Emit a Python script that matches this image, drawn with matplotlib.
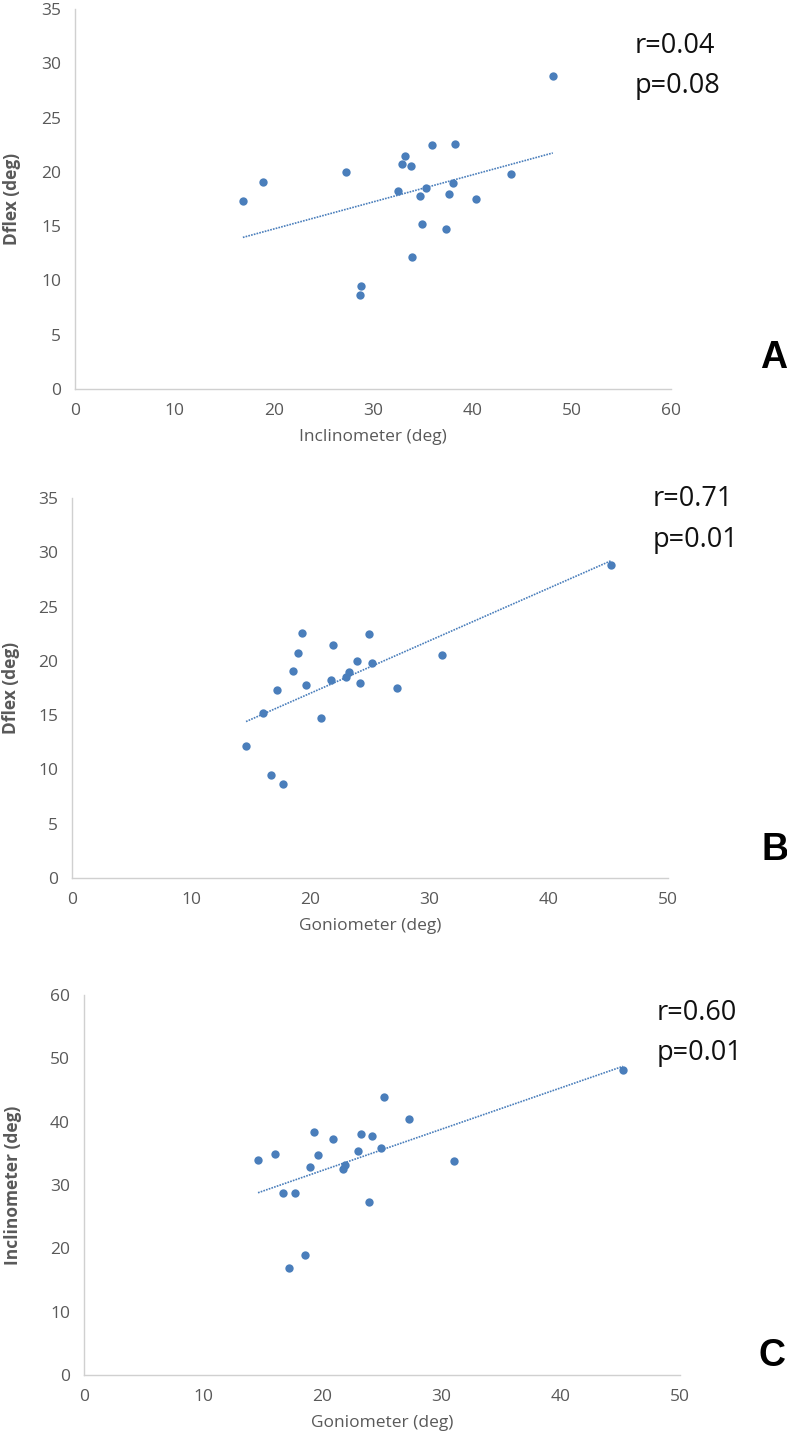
import numpy as np
import matplotlib
matplotlib.use("Agg")
import matplotlib.pyplot as plt

# one value per subject
goniometer = [14.6, 16.0, 16.7, 17.2, 17.7, 18.5, 19.0, 19.3, 19.6, 20.9, 21.7,
              21.9, 23.0, 23.2, 23.9, 24.2, 24.9, 25.2, 27.3, 31.0, 45.2]
inclinometer = [33.9, 34.9, 28.8, 16.9, 28.7, 18.9, 32.9, 38.3, 34.7, 37.3, 32.5,
                33.2, 35.3, 38.1, 27.3, 37.7, 35.9, 43.9, 40.4, 33.8, 48.1]
dflex = [12.2, 15.2, 9.5, 17.3, 8.7, 19.1, 20.7, 22.6, 17.8, 14.7, 18.2,
         21.5, 18.5, 19.0, 20.0, 18.0, 22.5, 19.8, 17.5, 20.5, 28.8]

panel_letters = ["A", "B", "C"]
r_text = ["r=0.04", "r=0.71", "r=0.60"]
p_text = ["p=0.08", "p=0.01", "p=0.01"]
x_titles = ["Inclinometer (deg)", "Goniometer (deg)", "Goniometer (deg)"]
y_titles = ["Dflex (deg)", "Dflex (deg)", "Inclinometer (deg)"]
x_max = [60, 50, 50]
y_max = [35, 35, 60]
y_step = [5, 5, 10]

W, H = 787, 1441
blue = "#4a7ebb"
grey = "#595959"

fig = plt.figure(figsize=(W / 100, H / 100), dpi=100)

# axes boxes in pixels: left, top(y of max), right, bottom(y of 0)
boxes = [(75, 9, 671, 389), (72, 498, 668, 878), (84, 995, 680, 1375)]
ylab_px = [12, 11, 13]
text_pos = [(635, 53, 93), (653, 506, 547), (657, 1020, 1060)]
letter_pos = [(760, 368), (761, 860), (759, 1366)]

pairs = [(inclinometer, dflex), (goniometer, dflex), (goniometer, inclinometer)]

for i, (xs, ys) in enumerate(pairs):
    l, t, r, b = boxes[i]
    ax = fig.add_axes([l / W, 1 - b / H, (r - l) / W, (b - t) / H])
    xs = np.array(xs)
    ys = np.array(ys)
    ax.scatter(xs, ys, s=36, color=blue, zorder=3, linewidths=0)
    k, c = np.polyfit(xs, ys, 1)
    xl = np.array([xs.min(), xs.max()])
    ax.plot(xl, k * xl + c, color=blue, lw=1.2, linestyle=(0, (1, 0.7)), zorder=2)

    ax.set_xlim(0, x_max[i])
    ax.set_ylim(0, y_max[i])
    ax.set_xticks(np.arange(0, x_max[i] + 1, 10))
    ax.set_yticks(np.arange(0, y_max[i] + 1, y_step[i]))
    for s in ["top", "right"]:
        ax.spines[s].set_visible(False)
    for s in ["left", "bottom"]:
        ax.spines[s].set_color("#d0d0d0")
        ax.spines[s].set_linewidth(1.0)
    ax.tick_params(length=0, labelsize=12.5, labelcolor=grey, pad=10)
    for lab in ax.get_xticklabels() + ax.get_yticklabels():
        lab.set_fontfamily("Open Sans")

    ax.set_xlabel(x_titles[i], fontsize=12.5, color=grey, fontfamily="Open Sans")
    ax.xaxis.set_label_coords(0.5, -0.105)
    ax.set_ylabel(y_titles[i], fontsize=12.5, color=grey, fontweight="bold",
                  fontfamily="Open Sans", va="center")
    ax.yaxis.set_label_coords((ylab_px[i] - l) / (r - l), 0.5)

    tx, ry, py = text_pos[i]
    fig.text(tx / W, 1 - ry / H, r_text[i], fontsize=19.5, color="#111111",
             fontfamily="Open Sans", va="baseline", ha="left")
    fig.text(tx / W, 1 - py / H, p_text[i], fontsize=19.5, color="#111111",
             fontfamily="Open Sans", va="baseline", ha="left")
    lx, ly = letter_pos[i]
    fig.text(lx / W, 1 - ly / H, panel_letters[i], fontsize=27, fontweight="bold",
             fontfamily="Liberation Sans", va="baseline", ha="left", color="black")

fig.savefig("out.png", dpi=100)
